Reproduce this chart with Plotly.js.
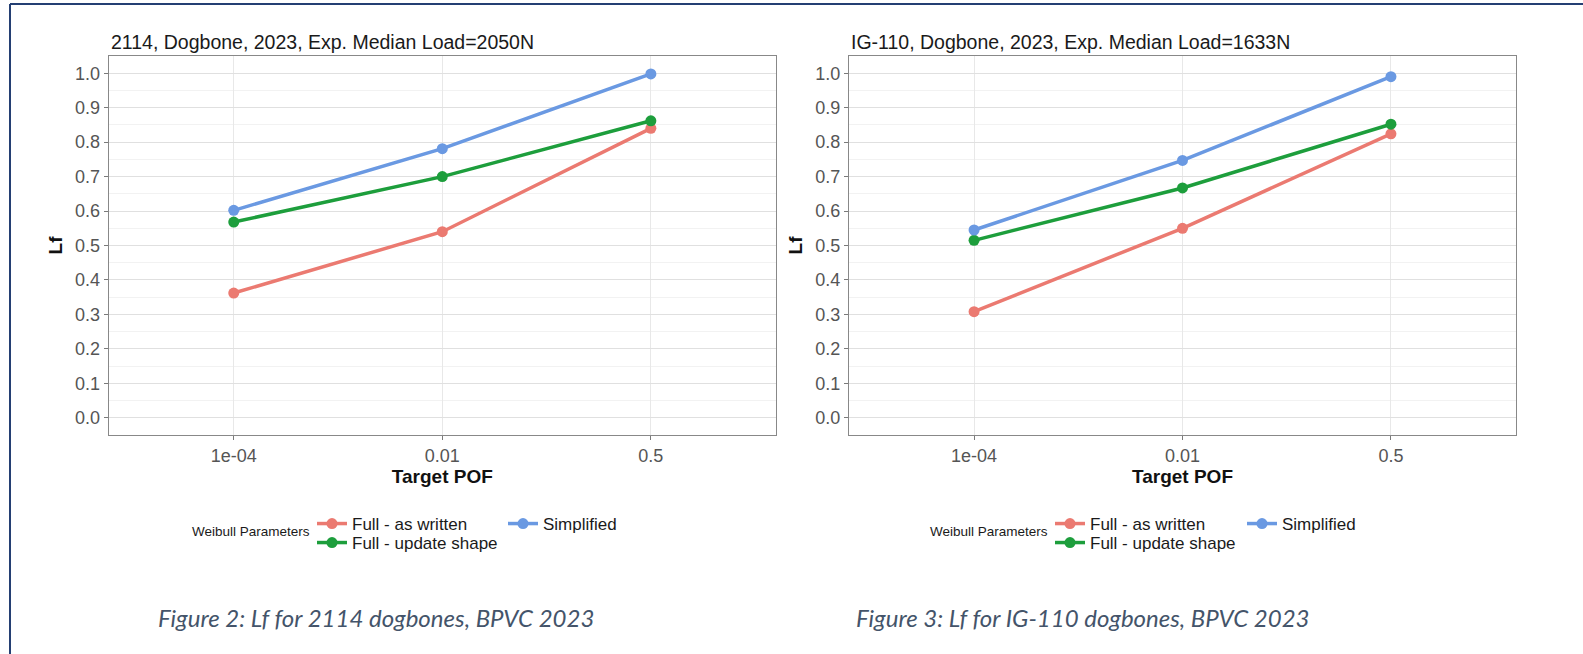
<!DOCTYPE html>
<html>
<head>
<meta charset="utf-8">
<script src="https://cdn.plot.ly/plotly-3.0.1.min.js"></script>
<style>
  html, body { margin: 0; padding: 0; background: #ffffff; }
  #chart { width: 1583px; height: 654px; }
</style>
</head>
<body>
<div id="chart"></div>
<script>
// Target probability of failure (discrete x categories)
const pofLabels = ['1e-04', '0.01', '0.5'];

// Weibull parameter variants
const seriesNames = ['Full - as written', 'Full - update shape', 'Simplified'];
const seriesColors = ['#EB7A71', '#1D9E3C', '#6A99E2'];

// Lf for grade 2114 dogbones
const lf2114Written    = [0.362, 0.540, 0.840];
const lf2114Update     = [0.568, 0.700, 0.862];
const lf2114Simplified = [0.602, 0.781, 0.998];

// Lf for grade IG-110 dogbones
const lfIG110Written    = [0.308, 0.550, 0.824];
const lfIG110Update     = [0.515, 0.667, 0.852];
const lfIG110Simplified = [0.545, 0.747, 0.990];

// Panel titles and figure captions
const panelTitles = [
  '2114, Dogbone, 2023, Exp. Median Load=2050N',
  'IG-110, Dogbone, 2023, Exp. Median Load=1633N'
];
const captions = [
  'Figure 2: Lf for 2114 dogbones, BPVC 2023',
  'Figure 3: Lf for IG-110 dogbones, BPVC 2023'
];
const legendTitle = 'Weibull Parameters';
const xTitle = 'Target POF';
const yTitle = 'Lf';

// ---- page geometry (px) ----
const W = 1583, H = 654;
const FONT = '"Liberation Sans", Arial, sans-serif';
const px = v => v / W;
const py = v => 1 - v / H;

const panelLeft  = [108.6, 849];
const panelRight = [776, 1516];
const panelTop = 56, panelBottom = 435;

function panelTraces(valueSets, xa, ya, legendIds) {
  return valueSets.map((vals, i) => ({
    type: 'scatter',
    mode: 'lines+markers',
    x: pofLabels,
    y: vals,
    xaxis: xa,
    yaxis: ya,
    name: seriesNames[i],
    legend: legendIds[i],
    line: { color: seriesColors[i], width: 3.5 },
    marker: { color: seriesColors[i], size: 11 },
    hoverinfo: 'skip'
  }));
}

const data = [
  ...panelTraces([lf2114Written, lf2114Update, lf2114Simplified], 'x', 'y',
                 ['legend', 'legend2', 'legend3']),
  ...panelTraces([lfIG110Written, lfIG110Update, lfIG110Simplified], 'x2', 'y2',
                 ['legend4', 'legend5', 'legend6'])
];

function xAxis(i, anchor) {
  return {
    domain: [px(panelLeft[i]), px(panelRight[i])],
    anchor: anchor,
    type: 'category',
    range: [-0.6, 2.6],
    showgrid: true, gridcolor: '#E8E8E8', gridwidth: 1,
    ticks: 'outside', ticklen: 4, tickwidth: 1, tickcolor: '#7a7a7a',
    showline: true, linecolor: '#888888', linewidth: 1, mirror: true,
    zeroline: false,
    tickfont: { family: FONT, size: 18, color: '#555555' },
    title: { text: '<b>' + xTitle + '</b>', font: { family: FONT, size: 19, color: '#111111' }, standoff: 0 },
    fixedrange: true
  };
}

function yAxis(anchor) {
  return {
    domain: [py(panelBottom), py(panelTop)],
    anchor: anchor,
    range: [-0.05, 1.05],
    tick0: 0, dtick: 0.1, tickformat: '.1f',
    showgrid: true, gridcolor: '#E0E0E0', gridwidth: 1,
    minor: { tick0: 0, dtick: 0.05, showgrid: true, gridcolor: '#F2F2F2', ticks: '' },
    ticks: 'outside', ticklen: 4, tickwidth: 1, tickcolor: '#7a7a7a',
    showline: true, linecolor: '#888888', linewidth: 1, mirror: true,
    zeroline: false,
    tickfont: { family: FONT, size: 18, color: '#555555' },
    title: { text: '<b>' + yTitle + '</b>', font: { family: FONT, size: 19, color: '#111111' }, standoff: 7 },
    fixedrange: true
  };
}

function legendAt(markerX, rowY) {
  return {
    x: px(markerX - 20), y: py(rowY),
    xanchor: 'left', yanchor: 'middle',
    orientation: 'v',
    bgcolor: 'rgba(0,0,0,0)', borderwidth: 0,
    font: { family: FONT, size: 17, color: '#1a1a1a' },
    itemclick: false, itemdoubleclick: false
  };
}

const row1 = 524, row2 = 543;

const annotations = [
  // panel titles
  ...panelTitles.map((t, i) => ({
    text: t, xref: 'paper', yref: 'paper',
    x: px(panelLeft[i]), y: py(42), xanchor: 'left', yanchor: 'middle',
    showarrow: false, font: { family: FONT, size: 19.5, color: '#1a1a1a' }
  })),
  // legend headings, right-aligned just before the legend keys
  ...[312, 1050].map(x => ({
    text: legendTitle, xref: 'paper', yref: 'paper',
    x: px(x), y: py(531), xanchor: 'right', yanchor: 'middle',
    showarrow: false, font: { family: FONT, size: 13.5, color: '#1a1a1a' }
  })),
  // figure captions
  ...captions.map((c, i) => ({
    text: c, xref: 'paper', yref: 'paper',
    x: px([376, 1083][i]), y: py(617), xanchor: 'center', yanchor: 'middle',
    showarrow: false,
    font: { family: 'Lato, "Open Sans", sans-serif', size: 24, style: 'italic', color: '#44546A' }
  }))
];

// page frame (left and top rules)
const shapes = [
  { type: 'line', xref: 'paper', yref: 'paper', x0: px(10), x1: px(10), y0: 0, y1: py(4),
    line: { color: '#243F73', width: 2 } },
  { type: 'line', xref: 'paper', yref: 'paper', x0: px(10), x1: 1, y0: py(4), y1: py(4),
    line: { color: '#243F73', width: 2 } }
];

const layout = {
  width: W, height: H,
  margin: { l: 0, r: 0, t: 0, b: 0, pad: 0 },
  paper_bgcolor: '#ffffff',
  plot_bgcolor: '#ffffff',
  showlegend: true,
  xaxis: xAxis(0, 'y'),
  yaxis: yAxis('x'),
  xaxis2: xAxis(1, 'y2'),
  yaxis2: yAxis('x2'),
  legend:  legendAt(332, row1),
  legend2: legendAt(332, row2),
  legend3: legendAt(523, row1),
  legend4: legendAt(1070, row1),
  legend5: legendAt(1070, row2),
  legend6: legendAt(1262, row1),
  annotations: annotations,
  shapes: shapes
};

Plotly.newPlot('chart', data, layout, { staticPlot: true, displayModeBar: false });
</script>
</body>
</html>
